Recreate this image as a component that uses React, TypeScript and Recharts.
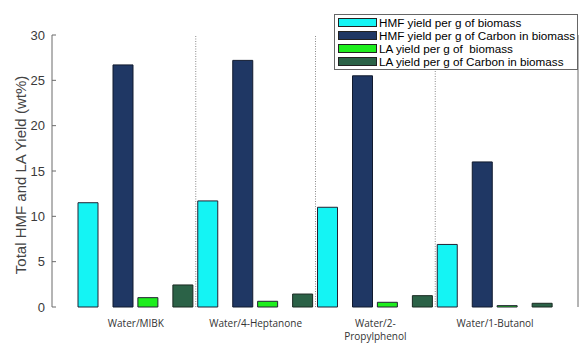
import React from 'react'
import {
  BarChart,
  Bar,
  XAxis,
  YAxis,
  ReferenceLine,
  Legend,
} from 'recharts'

// values (wt%)
const solvents = ['Water/MIBK', 'Water/4-Heptanone', 'Water/2-\nPropylphenol', 'Water/1-Butanol']
const hmfBiomass = [11.5, 11.7, 11.0, 6.9]
const hmfCarbon = [26.7, 27.2, 25.5, 16.0]
const laBiomass = [1.03, 0.63, 0.52, 0.15]
const laCarbon = [2.43, 1.43, 1.25, 0.41]
const yTicks = [0, 5, 10, 15, 20, 25, 30]

const seriesNames = [
  'HMF yield per g of biomass',
  'HMF yield per g of Carbon in biomass',
  'LA yield per g of  biomass',
  'LA yield per g of Carbon in biomass',
]
const seriesColors = ['#14F4F4', '#1F3764', '#1EEE1E', '#2B6247']

const W = 579
const H = 344
const PAD_L = 24
const PAD_R = 23
const PLOT_L = 52
const PLOT_R = W - 1
const AXIS = '#6b6b6b'

// each solvent gets an HMF slot and an LA slot
const rows = solvents.flatMap((s, i) => [
  { slot: `${i}-hmf`, kind: 'hmf', pos: 2 * i, hmfBiomass: hmfBiomass[i], hmfCarbon: hmfCarbon[i] },
  { slot: `${i}-la`, kind: 'la', pos: 2 * i + 1, laBiomass: laBiomass[i], laCarbon: laCarbon[i] },
])

// numeric axis lined up with the category bands (for dividers and labels)
const band = (PLOT_R - PLOT_L - PAD_L - PAD_R) / rows.length
const posMin = -0.5 - PAD_L / band
const posMax = rows.length - 0.5 + PAD_R / band
const labelTicks = solvents.map((_, i) => 2 * i + 0.5)
const dividers = solvents.slice(1).map((_, i) => 2 * i + 1.5)

const kindOf = (slot: string) => rows.find((r) => r.slot === slot)?.kind

const BottomTick = ({ x, y, payload }: any) =>
  kindOf(payload.value) === 'hmf' ? <line x1={x} x2={x} y1={y} y2={y - 4} stroke={AXIS} /> : <g />

const TopTick = ({ x, y, payload }: any) =>
  kindOf(payload.value) === 'hmf' ? <line x1={x} x2={x} y1={y} y2={y + 4} stroke={AXIS} /> : <g />

const LeftTick = ({ x, y, payload }: any) => (
  <g>
    <text x={x} y={y} textAnchor="end" dominantBaseline="central" fontSize={13} fill="#3a3a3a"
      fontFamily="'Liberation Sans', Arial, sans-serif">
      {payload.value}
    </text>
    <line x1={x + 7} x2={x + 11} y1={y} y2={y} stroke={AXIS} />
  </g>
)

const RightTick = ({ x, y }: any) => <line x1={x - 4} x2={x} y1={y} y2={y} stroke={AXIS} />

const SolventTick = ({ x, y, payload }: any) => {
  const idx = labelTicks.indexOf(payload.value)
  const lines = (solvents[idx] ?? '').split('\n')
  return (
    <text x={x} y={y + 20} textAnchor="middle" fontSize={10} fill="#333"
      fontFamily="'Open Sans', sans-serif">
      {lines.map((l, k) => (
        <tspan key={k} x={x} dy={k === 0 ? 0 : 13}>{l}</tspan>
      ))}
    </text>
  )
}

const LegendBox = () => (
  <div style={{
    border: '1px solid #666', background: '#fff', padding: '1px 2px 1px 3px',
    fontFamily: "'Liberation Sans', Arial, sans-serif", fontSize: 11.7, color: '#000',
  }}>
    {seriesNames.map((n, i) => (
      <div key={n} style={{ display: 'flex', alignItems: 'center', height: 13, lineHeight: '13px' }}>
        <span style={{
          display: 'inline-block', width: 37, height: 7, background: seriesColors[i],
          border: '1px solid #222', marginRight: 2,
        }} />
        <span style={{ whiteSpace: 'pre' }}>{n}</span>
      </div>
    ))}
  </div>
)

export default function App() {
  return (
    <div style={{ position: 'absolute', left: 0, top: 0, width: W, height: H, background: '#fff' }}>
      <BarChart width={W} height={H} data={rows} margin={{ top: 35, right: 0, bottom: 0, left: 0 }}
        barSize={20} barGap={15}>
        <XAxis xAxisId="cat" dataKey="slot" type="category" height={0} padding={{ left: PAD_L, right: PAD_R }}
          axisLine={{ stroke: AXIS }} tickLine={false} tickSize={0} tickMargin={0} interval={0} tick={<BottomTick />} />
        <XAxis xAxisId="pos" dataKey="pos" type="number" domain={[posMin, posMax]} allowDataOverflow
          ticks={labelTicks} interval={0} height={37} axisLine={false} tickLine={false} tickSize={0}
          tickMargin={0} tick={<SolventTick />} />
        <XAxis xAxisId="top" dataKey="slot" type="category" orientation="top" height={0}
          padding={{ left: PAD_L, right: PAD_R }} axisLine={{ stroke: AXIS }} tickLine={false} tickSize={0}
          tickMargin={0} interval={0} tick={<TopTick />} />
        <YAxis yAxisId="left" width={52} domain={[0, 30]} ticks={yTicks} interval={0} axisLine={{ stroke: AXIS }}
          tickLine={false} tickSize={0} tickMargin={7} tick={<LeftTick />}
          label={{
            content: () => (
              <text x={20} y={175} transform="rotate(-90 20 175)" textAnchor="middle" dominantBaseline="central"
                fontSize={15} fill="#444" fontFamily="'Liberation Sans', Arial, sans-serif">
                Total HMF and LA Yield (wt%)
              </text>
            ),
          }} />
        <YAxis yAxisId="right" orientation="right" width={1} domain={[0, 30]} ticks={yTicks} interval={0}
          axisLine={{ stroke: AXIS }} tickLine={false} tickSize={0} tickMargin={0} tick={<RightTick />} />
        {dividers.map((d) => (
          <ReferenceLine key={d} xAxisId="pos" yAxisId="left" x={d} stroke="#8a8a8a" strokeDasharray="1 1.5" />
        ))}
        <Bar xAxisId="cat" yAxisId="left" dataKey="hmfBiomass" stackId="a" fill={seriesColors[0]}
          stroke="#223" strokeWidth={1} isAnimationActive={false} />
        <Bar xAxisId="cat" yAxisId="left" dataKey="hmfCarbon" stackId="b" fill={seriesColors[1]}
          stroke="#111a2e" strokeWidth={1} isAnimationActive={false} />
        <Bar xAxisId="cat" yAxisId="left" dataKey="laBiomass" stackId="a" fill={seriesColors[2]}
          stroke="#223" strokeWidth={1} isAnimationActive={false} />
        <Bar xAxisId="cat" yAxisId="left" dataKey="laCarbon" stackId="b" fill={seriesColors[3]}
          stroke="#1a2a22" strokeWidth={1} isAnimationActive={false} />
        <Legend layout="horizontal" verticalAlign="middle" align="center"
          wrapperStyle={{ left: 334, top: 14, width: 'auto' }} content={<LegendBox />} />
      </BarChart>
    </div>
  )
}
